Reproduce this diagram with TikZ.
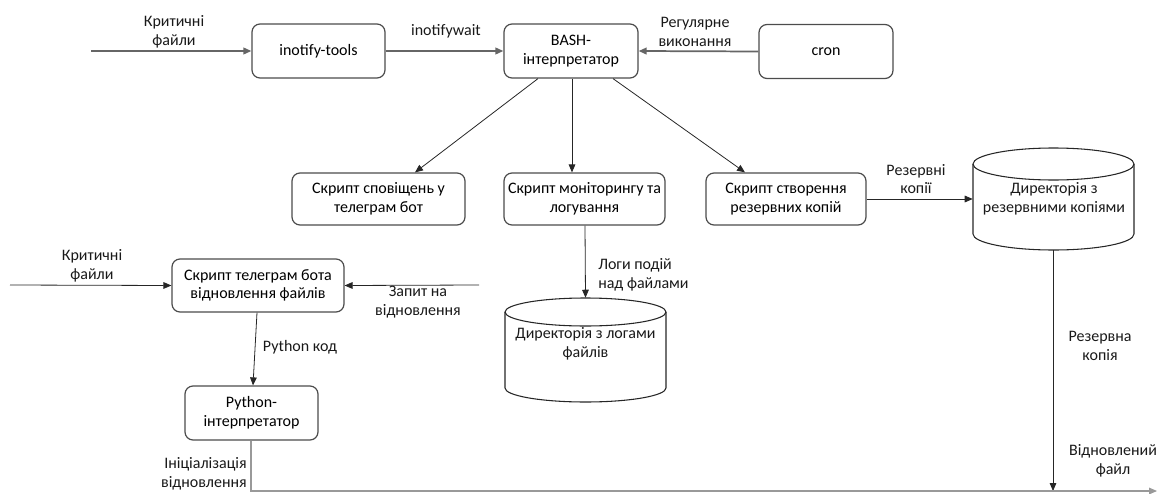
\documentclass[tikz,border=0pt]{standalone}
\usepackage{fontspec}
\setmainfont{Carlito}
\usetikzlibrary{arrows.meta,calc}
\begin{document}
\begin{tikzpicture}[x=0.75pt,y=-0.75pt,
  font=\fontsize{12}{14}\selectfont,
  box/.style={draw=black!70,line width=0.9pt,rounded corners=6pt,align=center,inner sep=0pt},
  lbl/.style={align=center,inner sep=0pt,text=black!90},
  arr/.style={draw=black!85,line width=0.6pt,-{Triangle[length=6pt,width=5pt]}},
  garr/.style={draw=black!60,line width=1.3pt,-{Triangle[length=6pt,width=5pt]}},
  cyl/.style={draw=black!85,line width=0.8pt},
  ghost/.style={draw=none,inner sep=0pt}]
\useasboundingbox (0,0) rectangle (1157,493);

% top row
\node[box,minimum width=99.75pt,minimum height=40.5pt] (ino) at (318.5,51) {inotify-tools};
\node[box,minimum width=100.5pt,minimum height=40.5pt] (bash) at (571,51) {BASH-\\інтерпретатор};
\node[box,minimum width=100.5pt,minimum height=40.5pt] (cron) at (826,51.5) {cron};

% second row
\node[box,minimum width=129.75pt,minimum height=39pt] (notif) at (378.5,199) {Скрипт сповіщень у\\телеграм бот};
\node[box,minimum width=120.75pt,minimum height=39pt] (mon) at (584.5,199) {Скрипт моніторингу та\\логування};
\node[box,minimum width=120pt,minimum height=39pt] (bkp) at (786,199) {Скрипт створення\\резервних копій};

% bottom-left
\node[box,minimum width=129pt,minimum height=39.75pt] (tg) at (258,285.5) {Скрипт телеграм бота\\відновлення файлів};
\node[box,minimum width=99.75pt,minimum height=40.5pt] (py) at (251.5,413) {Python-\\інтерпретатор};

% cylinder: backup directory
\node[ghost,minimum width=120.75pt,minimum height=76.5pt] (bkdir) at (1053.5,199) {};
\draw[cyl] (1053.5,164) ellipse[x radius=80.5,y radius=16];
\draw[cyl] (973,164) -- (973,234) arc[start angle=180,end angle=0,x radius=80.5,y radius=16] -- (1134,164);
\node[lbl] (bkdirtxt) at (1054,199) {Директорія з\\резервними копіями};

% cylinder: logs directory
\node[ghost,minimum width=120.75pt,minimum height=78pt] (logdir) at (585.5,350) {};
\draw[cyl] (585.5,312) ellipse[x radius=80.5,y radius=14];
\draw[cyl] (505,312) -- (505,388) arc[start angle=180,end angle=0,x radius=80.5,y radius=14] -- (666,312);
\node[lbl] (logdirtxt) at (585.5,344) {Директорія з логами\\файлів};

% free ends
\coordinate (inA) at (91,51);
\coordinate (inB) at (10,285);
\coordinate (req) at (479,285);
\coordinate (corner) at (251,491);
\coordinate (outR) at (1157,491);
\coordinate (bkbot) at (1053,250);
\coordinate (bkend) at (1053,491);

% connectors
\draw[garr] (inA) -- (ino.west);
\draw[garr] (ino.east) -- (bash.west);
\draw[garr] (cron.west) -- (bash.east);
\draw[arr] ($(bash.south)+(-33,0)$) -- ($(notif.north)+(36.5,0)$);
\draw[arr] ($(bash.south)+(1,0)$) -- ($(mon.north)+(-12.5,0)$);
\draw[arr] ($(bash.south)+(42,0)$) -- ($(bkp.north)+(-41,0)$);
\draw[arr] (bkp.east) -- (bkdir.west);
\draw[arr] ($(mon.south)+(0.5,0)$) -- (logdir.north);
\draw[arr] (bkbot) -- (bkend);
\draw[arr] (inB) -- (tg.west);
\draw[arr] (req) -- (tg.east);
\draw[arr] ($(tg.south)+(-1,0)$) -- ($(py.north)+(1.5,0)$);
\draw[draw=black!40,line width=0.8pt,-{Triangle[length=6pt,width=5pt]}] ($(py.south)+(-0.5,0)$) -- (corner) -- (outR);

% labels
\node[lbl] (l1) at (174,32) {Критичні\\файли};
\node[lbl] (l2) at (446,31) {inotifywait};
\node[lbl] (l3) at (695,32) {Регулярне\\виконання};
\node[lbl] (l4) at (916,179) {Резервні\\копії};
\node[lbl,align=left,anchor=west] (l5) at (598,275) {Логи подій\\над файлами};
\node[lbl] (l6) at (92,266) {Критичні\\файли};
\node[lbl] (l7) at (418,302) {Запит на\\відновлення};
\node[lbl] (l8) at (300,347) {Python код};
\node[lbl,align=right,anchor=east] (l9) at (247,474) {Ініціалізація\\відновлення};
\node[lbl] (l10) at (1100,346) {Резервна\\копія};
\node[lbl] (l11) at (1113,461) {Відновлений\\файл};
\end{tikzpicture}
\end{document}
